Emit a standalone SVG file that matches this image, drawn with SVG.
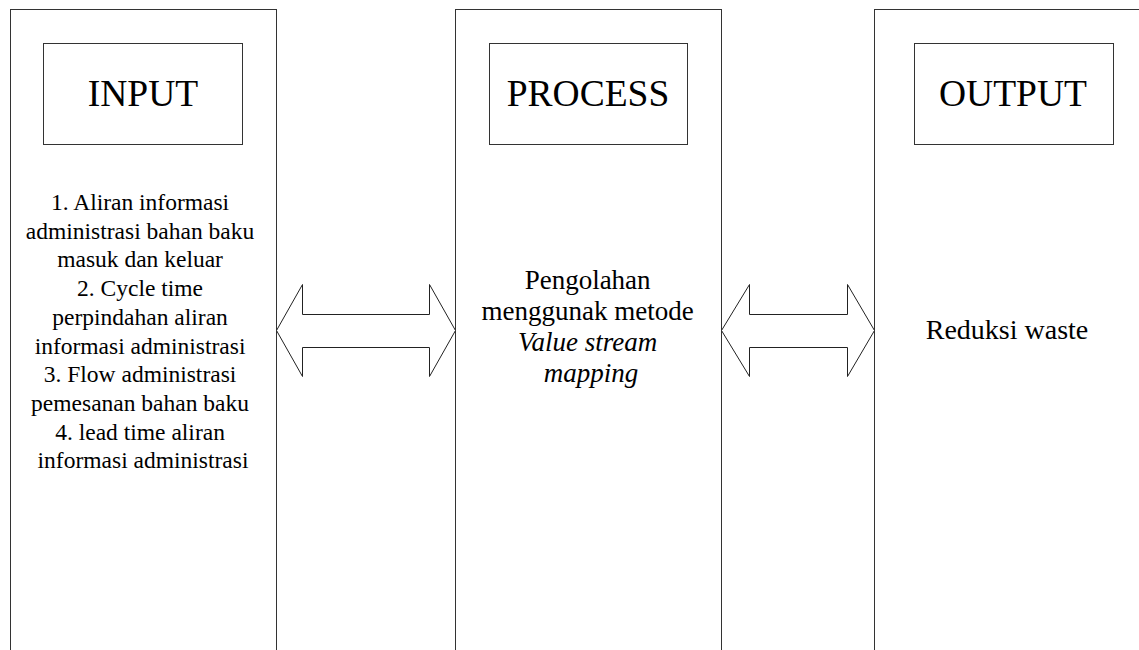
<svg xmlns="http://www.w3.org/2000/svg" width="1139" height="650" viewBox="0 0 1139 650">
<style>
.col{fill:#fff;stroke:#333;stroke-width:1}
.box{fill:#fff;stroke:#333;stroke-width:1}
.arr{fill:#fff;stroke:#222;stroke-width:1;stroke-linejoin:miter}
.title{font-family:"Liberation Serif",serif;font-size:37.5px;fill:#000;text-anchor:middle}
.body{font-family:"Liberation Serif",serif;font-size:23.5px;fill:#000;text-anchor:middle}
.big{font-family:"Liberation Serif",serif;font-size:27px;fill:#000;text-anchor:middle}
.it{font-style:italic}
</style>
<rect width="1139" height="650" fill="#fff"/>
<g id="input">
<rect class="col" x="10.5" y="9.5" width="266" height="660"/>
<rect class="box" x="43.5" y="43.5" width="199" height="101"/>
<text class="title" x="143" y="106">INPUT</text>
<text class="body" x="143" y="210">
<tspan x="143" dy="0">1. Aliran informasi</tspan>
<tspan x="143" dy="28.7">administrasi bahan baku</tspan>
<tspan x="143" dy="28.7">masuk dan keluar</tspan>
<tspan x="143" dy="28.7">2. Cycle time</tspan>
<tspan x="143" dy="28.7">perpindahan aliran</tspan>
<tspan x="143" dy="28.7">informasi administrasi</tspan>
<tspan x="143" dy="28.7">3. Flow administrasi</tspan>
<tspan x="143" dy="28.7">pemesanan bahan baku</tspan>
<tspan x="143" dy="28.7">4. lead time aliran</tspan>
<tspan x="143" dy="28.7">informasi administrasi</tspan>
</text>
</g>
<g id="process">
<rect class="col" x="455.5" y="9.5" width="266" height="660"/>
<rect class="box" x="489.5" y="43.5" width="198" height="101"/>
<text class="title" x="588" y="106">PROCESS</text>
<text class="big" x="591" y="289">
<tspan x="591" dy="0">Pengolahan</tspan>
<tspan x="591" dy="31">menggunak metode</tspan>
<tspan x="591" dy="31" class="it">Value stream</tspan>
<tspan x="591" dy="31" class="it">mapping</tspan>
</text>
</g>
<g id="output">
<rect class="col" x="874.5" y="9.5" width="266" height="660"/>
<rect class="box" x="914.5" y="43.5" width="199" height="101"/>
<text class="title" x="1013" y="106">OUTPUT</text>
<text class="big" x="1007" y="339" style="font-size:28px">Reduksi waste</text>
</g>
<g id="connectors">
<path class="arr" d="M276.5,330.5 L302.5,284.5 L302.5,314.5 L429.5,314.5 L429.5,284.5 L455.5,330.5 L429.5,376.5 L429.5,347.5 L302.5,347.5 L302.5,376.5 Z"/>
<path class="arr" d="M721.5,330.5 L749.5,284.5 L749.5,314.5 L847.5,314.5 L847.5,284.5 L874.5,330.5 L847.5,376.5 L847.5,347.5 L749.5,347.5 L749.5,376.5 Z"/>
</g>
</svg>
